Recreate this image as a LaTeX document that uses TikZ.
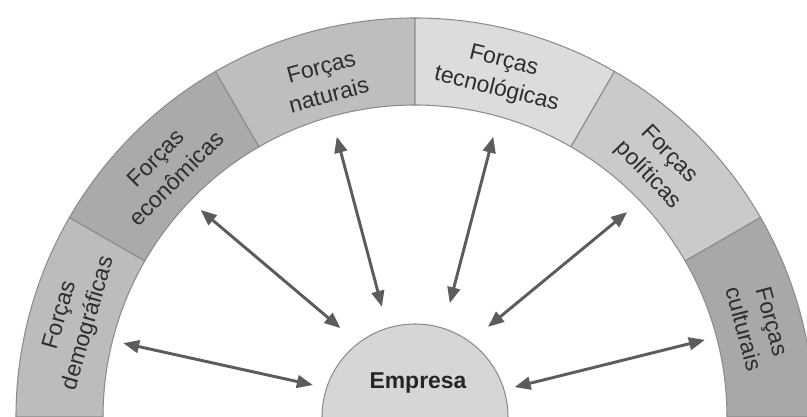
\documentclass[tikz,border=0pt]{standalone}
\usepackage{fontspec}
\setmainfont{Liberation Sans}
\usetikzlibrary{arrows.meta}
\definecolor{demo}{HTML}{BCBCBC}
\definecolor{econ}{HTML}{AAAAAA}
\definecolor{natu}{HTML}{BEBEBE}
\definecolor{tecn}{HTML}{DCDCDC}
\definecolor{poli}{HTML}{CACACA}
\definecolor{cult}{HTML}{A8A8A8}
\definecolor{empr}{HTML}{D6D6D6}

\begin{document}
\begin{tikzpicture}[x=0.75pt,y=0.75pt,seg/.style={draw=black!45,line width=0.8pt},lbl/.style={align=center,font=\fontsize{17.2}{22}\selectfont,text=black!82},a/.style={{Triangle[length=12pt,width=9.5pt]}-{Triangle[length=12pt,width=9.5pt]},draw=black!64,line width=2.2pt}]
\clip (-415,0) rectangle (392,417);
% ring of forces
\foreach \s/\c in {180/demo,150/econ,120/natu,90/tecn,60/poli,30/cult}
  \filldraw[seg,fill=\c] (\s:399) arc[start angle=\s,delta angle=-30,radius=399] -- (\s-30:312) arc[start angle=\s-30,delta angle=30,radius=312] -- cycle;
\node[lbl,rotate=74] (dem) at (164:354) {Forças\\demográficas};
\node[lbl,rotate=45] (eco) at (135:352) {Forças\\econômicas};
\node[lbl,rotate=15] (nat) at (105:348) {Forças\\naturais};
\node[lbl,rotate=-14] (tec) at (76:352) {Forças\\tecnológicas};
\node[lbl,rotate=-46] (pol) at (46:350) {Forças\\políticas};
\node[lbl,rotate=-75] (cul) at (15:355) {Forças\\culturais};
% company
\node[circle,draw=black!45,line width=0.8pt,fill=empr,minimum size=139.5pt] (emp) at (0,0) {};
\node[font=\bfseries\fontsize{17.2}{20}\selectfont,text=black!85] (empt) at (3,34) {Empresa};
% arrow ends
\coordinate (o1) at (165.8:301); \coordinate (i1) at (162.6:107);
\coordinate (o2) at (136:298);   \coordinate (i2) at (130:116);
\coordinate (o3) at (105.6:291); \coordinate (i3) at (106.7:115);
\coordinate (o4) at (74.4:291);  \coordinate (i4) at (73:119);
\coordinate (o5) at (44:295);    \coordinate (i5) at (51:116);
\coordinate (o6) at (14.9:300);  \coordinate (i6) at (16.7:104);
\foreach \k in {1,...,6} \draw[a] (o\k)--(i\k);
\end{tikzpicture}
\end{document}
